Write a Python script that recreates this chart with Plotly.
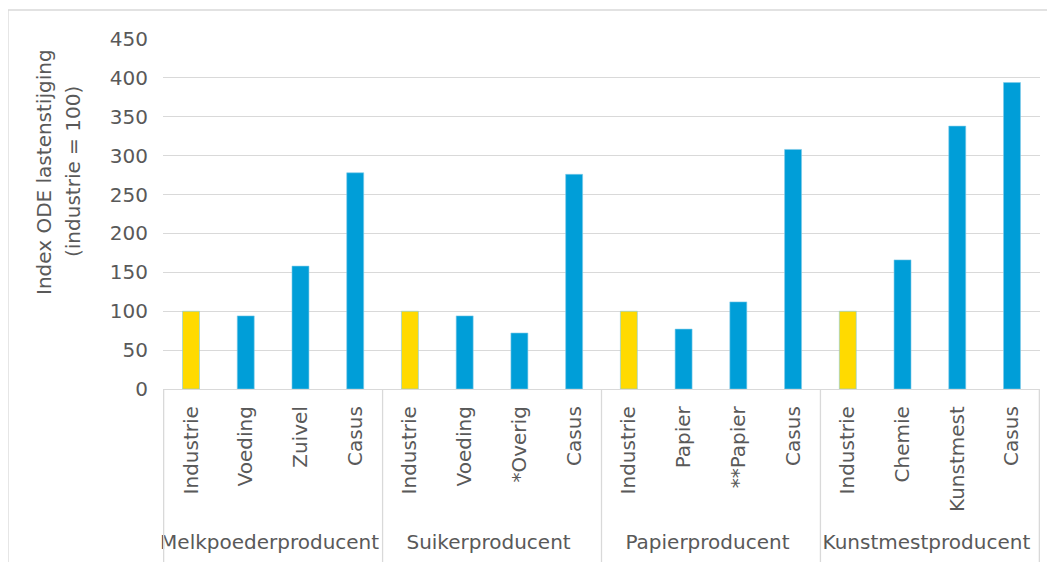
import plotly.graph_objects as go

groups = ["Melkpoederproducent"] * 4 + ["Suikerproducent"] * 4 + ["Papierproducent"] * 4 + ["Kunstmestproducent"] * 4
items = ["Industrie", "Voeding", "Zuivel", "Casus",
         "Industrie", "Voeding", "*Overig", "Casus",
         "Industrie", "Papier", "**Papier", "Casus",
         "Industrie", "Chemie", "Kunstmest", "Casus"]
values = [100, 94, 158, 278,
          100, 94, 72, 276,
          100, 77, 112, 308,
          100, 166, 338, 394]
y_title_lines = ["Index ODE lastenstijging", "(industrie = 100)"]

YELLOW = "#FFDA00"
BLUE = "#009ED8"

# plotly orders multicategory inner labels by first appearance; feed "Casus" last
order = sorted(range(len(items)), key=lambda i: items[i] == "Casus")
gx = [groups[i] for i in order]
ix = ["\u00a0" + items[i] for i in order]  # small extra room before group labels
vy = [values[i] for i in order]
colors = [YELLOW if items[i] == "Industrie" else BLUE for i in order]

# page body has an 8px margin
W, H = 1047, 554
L, T = 155, 31
pw, ph = 877, 350
R = W - L - pw
B = H - T - ph

fig = go.Figure(go.Bar(
    x=[gx, ix], y=vy,
    marker=dict(color=colors, line=dict(color="#7FCBEA", width=0.6)),
    width=0.31,
))

FAM = "DejaVu Sans"
GREY = "#595959"
LINE = "#D9D9D9"

# group dividers (category-index positions) reaching to the chart bottom
n_groups = len(dict.fromkeys(groups))
per = len(items) // n_groups
shapes = []
for k in range(n_groups + 1):
    xv = k * per - 0.5
    shapes.append(dict(type="line", xref="x", yref="paper", x0=xv, x1=xv,
                       y0=-(H - T - ph) / ph, y1=0, line=dict(color=LINE, width=1.3)))
shapes.append(dict(type="rect", xref="paper", yref="paper",
                   x0=-L / pw, x1=(1041 - L) / pw,
                   y0=-0.7, y1=1 + (T - 2) / ph,
                   line=dict(color=LINE, width=1.3), layer="below"))

annotations = []
for j, (txt, px) in enumerate(zip(y_title_lines, [36, 65])):
    annotations.append(dict(text=txt, textangle=-90, showarrow=False,
                            xref="paper", yref="paper",
                            x=(px - L) / pw, y=1 - (164 - T) / ph,
                            xanchor="center", yanchor="middle",
                            font=dict(family=FAM, size=20, color=GREY)))

fig.update_layout(
    width=W, height=H,
    margin=dict(l=L, r=R, t=T, b=B),
    paper_bgcolor="white", plot_bgcolor="white",
    showlegend=False,
    font=dict(family=FAM, size=20, color=GREY),
    xaxis=dict(
        type="multicategory",
        automargin=False,
        tickangle=-90,
        ticklabelstandoff=8,
        showline=True, linecolor=LINE, linewidth=1.3,
        showdividers=False,
        ticks="", tickfont=dict(family=FAM, size=20, color=GREY),
        showgrid=False,
    ),
    yaxis=dict(
        automargin=False,
        range=[0, 450], dtick=50,
        ticklabelstandoff=14,
        showgrid=True, gridcolor=LINE, gridwidth=1.3,
        zeroline=False, ticks="", tickfont=dict(family=FAM, size=20, color=GREY),
    ),
    shapes=shapes,
    annotations=annotations,
)

fig.write_html("out.html")
